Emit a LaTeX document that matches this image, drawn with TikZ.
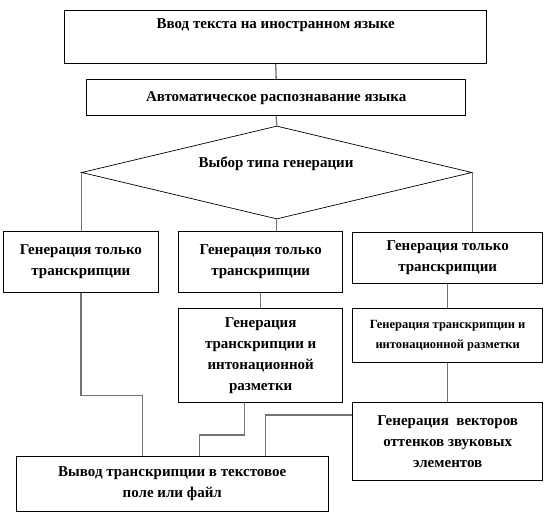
\documentclass[tikz,border=0pt]{standalone}
\usepackage{fontspec}
\setmainfont{Liberation Serif}
\usetikzlibrary{shapes.geometric,calc}
\begin{document}
\begin{tikzpicture}[x=1pt,y=-1pt,
  box/.style={draw=black, line width=0.8pt, anchor=north west, inner sep=0pt, align=center,
    font=\bfseries\fontsize{15}{21}\selectfont},
  smallbox/.style={box, font=\bfseries\fontsize{12.5}{19.6}\selectfont},
  dia/.style={draw=black, line width=0.7pt, diamond, inner sep=0pt},
  conn/.style={draw=gray!90!black, line width=1.3pt},
  lbl/.style={inner sep=0pt, font=\bfseries\fontsize{15}{21}\selectfont}]
\useasboundingbox (0,0) rectangle (546,514);
\fill[white] (0,0) rectangle (546,514);

\node[box, minimum width=422pt, minimum height=53pt] (b1) at (64.3,10.3) {Ввод текста на иностранном языке\\ \strut};
\node[box, minimum width=379pt, minimum height=36pt] (b2) at (86.3,79.3) {Автоматическое распознавание языка};
\node[dia, minimum width=390.4pt, minimum height=93pt] (dia) at (276.8,172.5) {};
\node[lbl] (dtext) at (276,164) {Выбор типа генерации};

\node[box, minimum width=155.6pt, minimum height=60.7pt] (b3) at (2.7,231) {Генерация только\\транскрипции};
\node[box, minimum width=164pt, minimum height=60.7pt] (b4) at (178.3,231) {Генерация только\\транскрипции};
\node[box, minimum width=190pt, minimum height=51pt] (b5) at (352.3,231.7) {Генерация только\\транскрипции};

\node[box, minimum width=164pt, minimum height=94pt] (b6) at (178.3,307.8) {Генерация\\транскрипции и\\интонационной\\разметки};
\node[smallbox, minimum width=190pt, minimum height=54pt] (b8) at (352.3,308.3) {Генерация транскрипции и\\интонационной разметки};
\node[box, minimum width=190pt, minimum height=77.7pt] (b9) at (352.3,402.3) {Генерация\ \ векторов\\оттенков звуковых\\элементов};
\node[box, minimum width=312.3pt, minimum height=55pt] (b7) at (15.7,456) {Вывод транскрипции в текстовое\\поле или файл};

\coordinate (c1) at (142.7,395.7);
\coordinate (c2a) at (244.3,435);
\coordinate (c2b) at (199.3,435);
\coordinate (c3) at (265.7,415);

\draw[conn] (b1.south) -- (b2.north);
\draw[conn] (b2.south) -- (dia.north);
\draw[conn] (dia.west) -- (dia.west |- b3.north);
\draw[conn] (dia.south) -- (dia.south |- b4.north);
\draw[conn] (dia.east) -- (dia.east |- b5.north);
\draw[conn] (b4.south) -- (b6.north);
\draw[conn] (b5.south) -- (b8.north);
\draw[conn] (b8.south) -- (b9.north);
\draw[conn] (b3.south) |- (c1) -- (c1 |- b7.north);
\draw[conn] (c2a |- b6.south) -- (c2a) -- (c2b) -- (c2b |- b7.north);
\draw[conn] (c3 -| b9.west) -- (c3) -- (c3 |- b7.north);
\end{tikzpicture}
\end{document}
